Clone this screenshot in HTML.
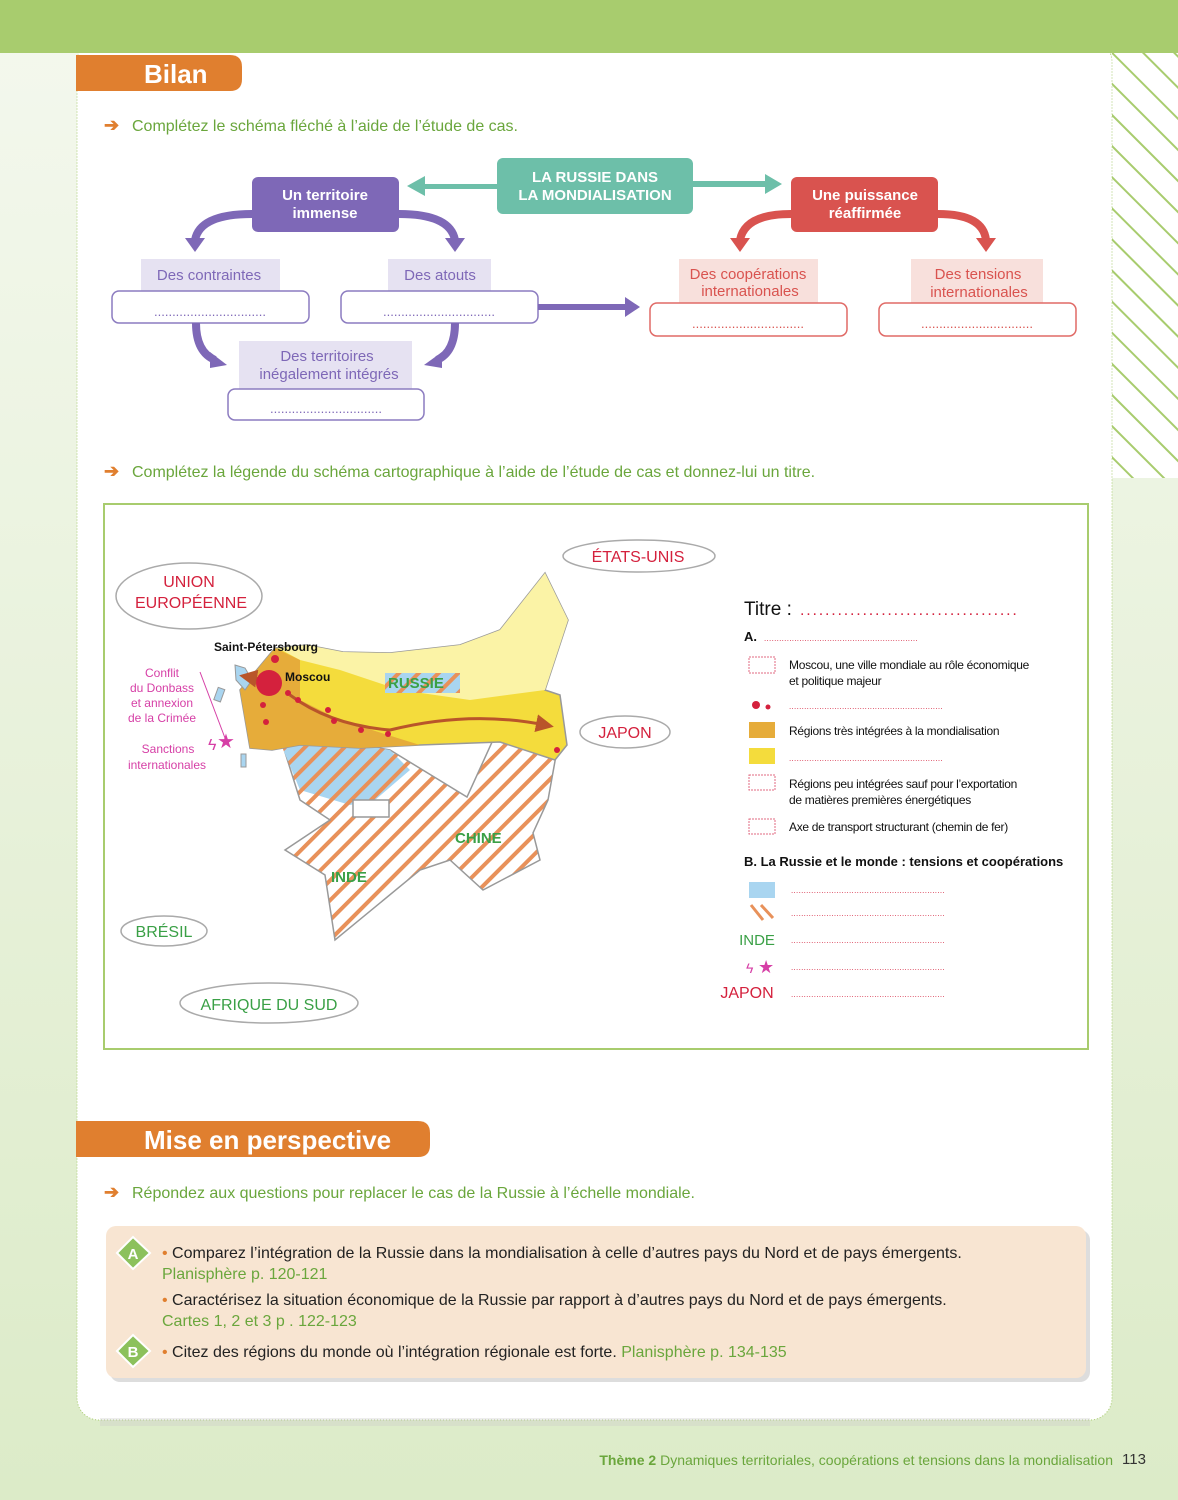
<!DOCTYPE html>
<html><head><meta charset="utf-8"><style>
html,body{margin:0;padding:0;background:#e4efd6}
svg{display:block}
text{font-family:"Liberation Sans",sans-serif}
</style></head><body>
<svg width="1178" height="1500" viewBox="0 0 1178 1500" xmlns="http://www.w3.org/2000/svg">
<defs>
<pattern id="hatch" patternUnits="userSpaceOnUse" width="14" height="14" patternTransform="rotate(45)">
<rect width="14" height="14" fill="#fff"/><rect width="4" height="14" fill="#e8915a"/></pattern>
<pattern id="hatchB" patternUnits="userSpaceOnUse" width="14" height="14" patternTransform="rotate(45)">
<rect width="14" height="14" fill="#a9d5f0"/><rect width="4" height="14" fill="#e8915a"/></pattern>
<pattern id="side" patternUnits="userSpaceOnUse" width="22" height="22" patternTransform="rotate(-45)">
<rect width="22" height="22" fill="#fff"/><rect width="2" height="22" fill="#a8cc6e"/></pattern>
<linearGradient id="bot" x1="0" y1="0" x2="0" y2="1"><stop offset="0" stop-color="#f4f8ee"/><stop offset="1" stop-color="#dcebc8"/></linearGradient>
<marker id="ah" markerWidth="6" markerHeight="6" refX="3" refY="3" orient="auto"><path d="M0,0 L6,3 L0,6 z" fill="#b9552a"/></marker>
</defs>
<rect width="1178" height="1500" fill="url(#bot)"/>
<rect x="1112" y="53" width="66" height="425" fill="url(#side)"/>
<rect x="77" y="40" width="1035" height="1380" rx="22" fill="#fff" stroke="#a8cc6e" stroke-dasharray="1 2"/>
<rect x="0" y="0" width="1178" height="53" fill="#a8cc6e"/>
<rect x="100" y="1418" width="990" height="8" fill="#ccc" opacity="0.35"/>

<!-- Bilan -->
<path d="M76,55 H230 Q242,55 242,67 V79 Q242,91 230,91 H76 Z" fill="#e07f2f"/>
<text x="144" y="83" font-size="26" font-weight="bold" fill="#fff">Bilan</text>
<text x="104" y="131" font-size="18" font-weight="bold" fill="#e07f2f">➔</text>
<text x="132" y="131" font-size="16" fill="#6aa63c">Complétez le schéma fléché à l’aide de l’étude de cas.</text>

<!-- flow -->
<rect x="497" y="158" width="196" height="56" rx="6" fill="#6dbfa9"/>
<text x="595" y="182" font-size="15" font-weight="bold" fill="#fff" text-anchor="middle">LA RUSSIE DANS</text>
<text x="595" y="200" font-size="15" font-weight="bold" fill="#fff" text-anchor="middle">LA MONDIALISATION</text>
<path d="M497,184 H425 V176 L407,186 L425,196 V189 H497 Z" fill="#6dbfa9"/>
<path d="M693,181 H765 V174 L782,184 L765,194 V187 H693 Z" fill="#6dbfa9"/>

<rect x="252" y="177" width="147" height="55" rx="6" fill="#7e68b7"/>
<text x="325" y="200" font-size="15" font-weight="bold" fill="#fff" text-anchor="middle">Un territoire</text>
<text x="325" y="218" font-size="15" font-weight="bold" fill="#fff" text-anchor="middle">immense</text>
<path d="M252,214 Q200,214 195,240" stroke="#7e68b7" stroke-width="8" fill="none"/>
<path d="M185,238 L195,252 L205,238 Z" fill="#7e68b7"/>
<path d="M399,214 Q450,214 455,240" stroke="#7e68b7" stroke-width="8" fill="none"/>
<path d="M445,238 L455,252 L465,238 Z" fill="#7e68b7"/>

<g font-size="15" fill="#7e68b7" text-anchor="middle">
<rect x="141" y="259" width="139" height="32" fill="#e6e2f2"/>
<text x="209" y="280">Des contraintes</text>
<rect x="388" y="259" width="103" height="32" fill="#e6e2f2"/>
<text x="440" y="280">Des atouts</text>
<rect x="239" y="341" width="173" height="48" fill="#e6e2f2"/>
<text x="327" y="361">Des territoires</text>
<text x="329" y="379">inégalement intégrés</text>
</g>
<g fill="#fff" stroke="#8c7cc0" stroke-width="1.5">
<rect x="112" y="291" width="197" height="32" rx="7"/>
<rect x="341" y="291" width="197" height="32" rx="7"/>
<rect x="228" y="389" width="196" height="31" rx="7"/>
</g>
<g font-size="13" fill="#7e68b7" text-anchor="middle">
<text x="210" y="316">...............................</text>
<text x="439" y="316">...............................</text>
<text x="326" y="413">...............................</text>
</g>
<path d="M196,323 Q196,352 215,360" stroke="#7e68b7" stroke-width="8" fill="none"/>
<path d="M210,352 L227,365 L210,368 Z" fill="#7e68b7"/>
<path d="M455,323 Q455,352 437,360" stroke="#7e68b7" stroke-width="8" fill="none"/>
<path d="M442,352 L424,365 L442,368 Z" fill="#7e68b7"/>
<path d="M538,304 H625 V297 L640,307 L625,317 V310 H538 Z" fill="#7e68b7"/>

<rect x="791" y="177" width="147" height="55" rx="6" fill="#d9534f"/>
<text x="865" y="200" font-size="15" font-weight="bold" fill="#fff" text-anchor="middle">Une puissance</text>
<text x="865" y="218" font-size="15" font-weight="bold" fill="#fff" text-anchor="middle">réaffirmée</text>
<path d="M791,214 Q745,214 740,240" stroke="#d9534f" stroke-width="8" fill="none"/>
<path d="M730,238 L740,252 L750,238 Z" fill="#d9534f"/>
<path d="M938,214 Q983,214 986,240" stroke="#d9534f" stroke-width="8" fill="none"/>
<path d="M976,238 L986,252 L996,238 Z" fill="#d9534f"/>
<g font-size="15" fill="#d9534f" text-anchor="middle">
<rect x="679" y="259" width="139" height="44" fill="#f8e0dc"/>
<text x="748" y="279">Des coopérations</text>
<text x="750" y="296">internationales</text>
<rect x="911" y="259" width="132" height="44" fill="#f8e0dc"/>
<text x="978" y="279">Des tensions</text>
<text x="979" y="297">internationales</text>
</g>
<g fill="#fff" stroke="#e06a66" stroke-width="1.5">
<rect x="650" y="303" width="197" height="33" rx="7"/>
<rect x="879" y="303" width="197" height="33" rx="7"/>
</g>
<g font-size="13" fill="#d9534f" text-anchor="middle">
<text x="748" y="328">...............................</text>
<text x="977" y="328">...............................</text>
</g>

<text x="104" y="477" font-size="18" font-weight="bold" fill="#e07f2f">➔</text>
<text x="132" y="477" font-size="16" fill="#6aa63c">Complétez la légende du schéma cartographique à l’aide de l’étude de cas et donnez-lui un titre.</text>

<!-- map frame -->
<rect x="104" y="504" width="984" height="545" fill="#fff" stroke="#a8cc6e" stroke-width="2"/>

<!-- map shapes -->
<path d="M278,730 L390,750 L467,797 L493,740 L550,733 L557,750 L548,800 L533,833 L540,860 L483,890 L450,860 L420,870 L335,940 L325,875 L285,850 L330,820 L300,800 Z" fill="url(#hatch)" stroke="#999" stroke-width="1.5"/>
<path d="M275,730 L390,750 L410,770 L375,800 L350,805 L300,790 Z" fill="url(#hatchB)"/>
<path d="M240,690 L275,648 L307,645 L343,652 L390,653 L460,645 L500,630 L545,573 L568,620 L545,690 L560,695 L567,745 L555,760 L500,742 L420,745 L360,748 L300,745 L272,750 L250,748 Z" fill="#f4dc3c" stroke="#999" stroke-width="1.5"/>
<path d="M278,648 L307,645 L343,652 L390,653 L460,645 L500,630 L545,573 L568,620 L545,690 L470,700 L400,690 L340,670 L300,660 Z" fill="#fbf3a6"/>
<path d="M240,690 L275,648 L300,660 L300,700 L340,720 L420,745 L360,748 L300,745 L272,750 L250,748 Z" fill="#e6ac3a"/>
<rect x="353" y="800" width="36" height="17" fill="#fff" stroke="#999" stroke-width="1.5"/>
<path d="M235,665 L245,668 L252,680 L245,690 L236,680 Z" fill="#a9d5f0" stroke="#999"/>
<rect x="216" y="688" width="7" height="13" fill="#a9d5f0" stroke="#999" transform="rotate(20 219 694)"/>
<rect x="241" y="754" width="5" height="13" fill="#a9d5f0" stroke="#999"/>
<path d="M290,695 Q330,725 390,730 Q470,710 545,725" stroke="#b9552a" stroke-width="3" fill="none" marker-end="url(#ah)"/>
<path d="M265,680 L248,677" stroke="#b9552a" stroke-width="3" fill="none" marker-end="url(#ah)"/>
<g fill="#d4213d">
<circle cx="269" cy="683" r="13"/><circle cx="275" cy="659" r="4"/>
<circle cx="288" cy="693" r="3"/><circle cx="298" cy="700" r="3"/><circle cx="263" cy="705" r="3"/>
<circle cx="266" cy="722" r="3"/><circle cx="328" cy="710" r="3"/><circle cx="334" cy="721" r="3"/>
<circle cx="361" cy="730" r="3"/><circle cx="388" cy="734" r="3"/><circle cx="557" cy="750" r="3"/>
</g>
<rect x="385" y="673" width="75" height="20" fill="url(#hatchB)"/>
<g font-size="15" fill="#3aa046" font-weight="bold">
<text x="388" y="688">RUSSIE</text>
<text x="455" y="843">CHINE</text>
<text x="331" y="882">INDE</text>
</g>
<g font-size="12" fill="#111" font-weight="bold">
<text x="214" y="651">Saint-Pétersbourg</text>
<text x="285" y="681">Moscou</text>
</g>
<g font-size="12" fill="#d63fa6" text-anchor="middle">
<text x="162" y="677">Conflit</text>
<text x="162" y="692">du Donbass</text>
<text x="162" y="707">et annexion</text>
<text x="162" y="722">de la Crimée</text>
<text x="168" y="753">Sanctions</text>
<text x="167" y="769">internationales</text>
</g>
<path d="M200,672 L225,738" stroke="#d63fa6" stroke-width="1"/>
<text x="208" y="750" font-size="16" fill="#d63fa6">ϟ</text>
<text x="217" y="748" font-size="20" fill="#d63fa6">★</text>

<g fill="#fff" stroke="#aaa" stroke-width="1.5">
<ellipse cx="189" cy="596" rx="73" ry="33"/>
<ellipse cx="639" cy="556" rx="76" ry="16"/>
<ellipse cx="625" cy="732" rx="45" ry="16"/>
<ellipse cx="164" cy="931" rx="43" ry="15"/>
<ellipse cx="269" cy="1003" rx="89" ry="20"/>
</g>
<g font-size="16" fill="#d4213d" text-anchor="middle">
<text x="189" y="587">UNION</text>
<text x="191" y="608">EUROPÉENNE</text>
<text x="638" y="562">ÉTATS-UNIS</text>
<text x="625" y="738">JAPON</text>
</g>
<g font-size="16" fill="#3aa046" text-anchor="middle">
<text x="164" y="937">BRÉSIL</text>
<text x="269" y="1010">AFRIQUE DU SUD</text>
</g>

<!-- legend -->
<text x="744" y="615" font-size="19" fill="#111">Titre :</text>
<text x="800" y="615" font-size="16" fill="#d4213d" letter-spacing="1.8">...................................</text>
<text x="744" y="641" font-size="13" fill="#111" font-weight="bold">A.</text>
<g stroke="#e06a80" stroke-width="1" stroke-dasharray="2 1" fill="#fff">
<rect x="749" y="657" width="26" height="16"/>
<rect x="749" y="775" width="26" height="15"/>
<rect x="749" y="819" width="26" height="15"/>
</g>
<g font-size="12" fill="#111" letter-spacing="-0.3">
<text x="789" y="669">Moscou, une ville mondiale au rôle économique</text>
<text x="789" y="685">et politique majeur</text>
<text x="789" y="735">Régions très intégrées à la mondialisation</text>
<text x="789" y="788">Régions peu intégrées sauf pour l’exportation</text>
<text x="789" y="804">de matières premières énergétiques</text>
<text x="789" y="831">Axe de transport structurant (chemin de fer)</text>
</g>
<circle cx="756" cy="705" r="4" fill="#d4213d"/><circle cx="768" cy="707" r="2.5" fill="#d4213d"/>
<rect x="749" y="722" width="26" height="16" fill="#e6ac3a"/>
<rect x="749" y="748" width="26" height="16" fill="#f4dc3c"/>
<text x="744" y="866" font-size="13" font-weight="bold" fill="#111">B. La Russie et le monde : tensions et coopérations</text>
<rect x="749" y="882" width="26" height="16" fill="#a9d5f0"/>
<path d="M751,905 L763,920 M761,905 L773,918" stroke="#e8915a" stroke-width="3"/>
<text x="757" y="945" font-size="15" fill="#3aa046" text-anchor="middle">INDE</text>
<text x="746" y="973" font-size="14" fill="#d63fa6">ϟ</text>
<text x="758" y="973" font-size="18" fill="#d63fa6">★</text>
<text x="747" y="998" font-size="16" fill="#d4213d" text-anchor="middle">JAPON</text>
<g font-size="8" fill="#d4213d" letter-spacing="0.3">
<text x="764" y="641">.............................................................</text>
<text x="789" y="709">.............................................................</text>
<text x="789" y="761">.............................................................</text>
<text x="791" y="893">.............................................................</text>
<text x="791" y="916">.............................................................</text>
<text x="791" y="943">.............................................................</text>
<text x="791" y="970">.............................................................</text>
<text x="791" y="997">.............................................................</text>
</g>

<!-- Mise en perspective -->
<path d="M76,1121 H418 Q430,1121 430,1133 V1145 Q430,1157 418,1157 H76 Z" fill="#e07f2f"/>
<text x="144" y="1149" font-size="26" font-weight="bold" fill="#fff">Mise en perspective</text>
<text x="104" y="1198" font-size="18" font-weight="bold" fill="#e07f2f">➔</text>
<text x="132" y="1198" font-size="16" fill="#6aa63c">Répondez aux questions pour replacer le cas de la Russie à l’échelle mondiale.</text>

<rect x="110" y="1230" width="980" height="152" rx="10" fill="#ddd"/>
<rect x="106" y="1226" width="980" height="152" rx="10" fill="#f8e5d2"/>
<path d="M133,1237 L150,1253 L133,1269 L117,1253 Z" fill="#8cc15c" stroke="#fff" stroke-width="2"/>
<text x="133" y="1259" font-size="15" font-weight="bold" fill="#fff" text-anchor="middle">A</text>
<path d="M133,1335 L150,1351 L133,1367 L117,1351 Z" fill="#8cc15c" stroke="#fff" stroke-width="2"/>
<text x="133" y="1357" font-size="15" font-weight="bold" fill="#fff" text-anchor="middle">B</text>
<g font-size="16" fill="#222">
<text x="162" y="1258"><tspan fill="#e07f2f">•</tspan> Comparez l’intégration de la Russie dans la mondialisation à celle d’autres pays du Nord et de pays émergents.</text>
<text x="162" y="1279" fill="#6aa63c">Planisphère p. 120-121</text>
<text x="162" y="1305"><tspan fill="#e07f2f">•</tspan> Caractérisez la situation économique de la Russie par rapport à d’autres pays du Nord et de pays émergents.</text>
<text x="162" y="1326" fill="#6aa63c">Cartes 1, 2 et 3 p . 122-123</text>
<text x="162" y="1357"><tspan fill="#e07f2f">•</tspan> Citez des régions du monde où l’intégration régionale est forte. <tspan fill="#6aa63c">Planisphère p. 134-135</tspan></text>
</g>

<text x="1113" y="1465" font-size="14" fill="#6aa63c" text-anchor="end"><tspan font-weight="bold">Thème 2</tspan> Dynamiques territoriales, coopérations et tensions dans la mondialisation</text>
<text x="1122" y="1464" font-size="15" fill="#333">113</text>
</svg>
</body></html>
